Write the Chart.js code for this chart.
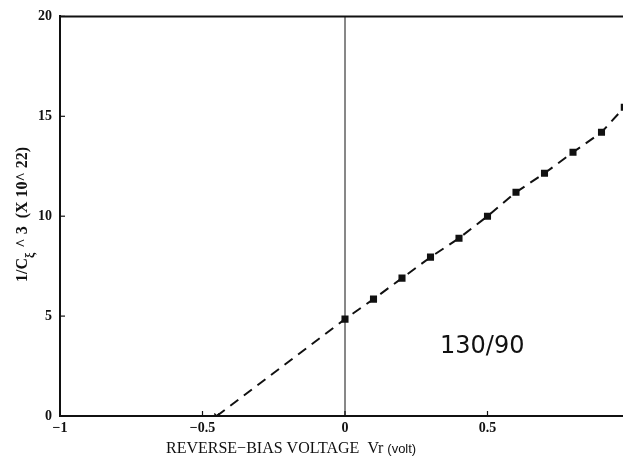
<!DOCTYPE html>
<html>
<head>
<meta charset="utf-8">
<script src="https://cdn.jsdelivr.net/npm/chart.js@4"></script>
<style>
  html, body { margin: 0; padding: 0; overflow: hidden; background: #fff; }
  #wrap { width: 623px; height: 462px; overflow: hidden; }
</style>
</head>
<body>
<div id="wrap"><canvas id="chart" width="690" height="462"></canvas></div>
<script>
// measured points, 1/C^3 against reverse bias
const voltage = [0, 0.1, 0.2, 0.3, 0.4, 0.5, 0.6, 0.7, 0.8, 0.9, 0.98]
const invC3 = [4.85, 5.85, 6.9, 7.95, 8.9, 10.0, 11.2, 12.15, 13.2, 14.2, 15.45]

// extrapolated intercept on the voltage axis
const interceptV = -0.45

const xTicks = [-1, -0.5, 0, 0.5, 1]
const yTicks = [0, 5, 10, 15, 20]

const serif = '"Liberation Serif", "DejaVu Serif", serif'

const frame = {
  id: 'frame',
  afterDatasetsDraw(chart) {
    const { ctx, chartArea, scales } = chart
    const x = scales.x
    const y = scales.y
    ctx.save()
    ctx.strokeStyle = '#111'
    // top border
    ctx.lineWidth = 2
    ctx.beginPath()
    ctx.moveTo(chartArea.left, chartArea.top)
    ctx.lineTo(chartArea.right, chartArea.top)
    ctx.stroke()
    // zero line
    ctx.lineWidth = 1
    ctx.beginPath()
    ctx.moveTo(x.getPixelForValue(0), chartArea.top)
    ctx.lineTo(x.getPixelForValue(0), chartArea.bottom)
    ctx.stroke()
    // small inward ticks
    ctx.lineWidth = 1.2
    xTicks.forEach((v) => {
      const px = x.getPixelForValue(v)
      ctx.beginPath()
      ctx.moveTo(px, chartArea.bottom)
      ctx.lineTo(px, chartArea.bottom - 5)
      ctx.stroke()
    })
    yTicks.forEach((v) => {
      const py = y.getPixelForValue(v)
      ctx.beginPath()
      ctx.moveTo(chartArea.left, py)
      ctx.lineTo(chartArea.left + 5, py)
      ctx.stroke()
    })

    ctx.fillStyle = '#111'
    ctx.textBaseline = 'alphabetic'

    // annotation
    ctx.font = '24px "DejaVu Sans", sans-serif'
    ctx.fillText('130/90', 440, 353)

    // x title
    let tx = 166
    ctx.font = '16px ' + serif
    const main = 'REVERSE\u2212BIAS VOLTAGE  Vr '
    ctx.fillText(main, tx, 453)
    tx += ctx.measureText(main).width
    ctx.font = '13px "Liberation Sans", Arial, sans-serif'
    ctx.fillText('(volt)', tx, 453)

    // y title, rotated
    ctx.translate(27, 282)
    ctx.rotate(-Math.PI / 2)
    let ty = 0
    ctx.font = 'bold 16px ' + serif
    ctx.fillText('1/C', ty, 0)
    ty += ctx.measureText('1/C').width
    ctx.font = 'bold 12px ' + serif
    ctx.fillText('\u03BE', ty, 7)
    ty += ctx.measureText('\u03BE').width + 1
    ctx.font = 'bold 16px ' + serif
    ctx.fillText(' ^ 3  (X 10^ 22)', ty, 0)
    ctx.restore()
  },
}

new Chart(document.getElementById('chart'), {
  type: 'scatter',
  data: {
    datasets: [
      {
        label: 'fit',
        data: [{ x: interceptV, y: 0 }].concat(voltage.map((v, i) => ({ x: v, y: invC3[i] }))),
        showLine: true,
        borderColor: '#111',
        borderWidth: 2,
        borderDash: [10, 7],
        pointRadius: (c) => (c.dataIndex === 0 ? 3.5 : 0),
        pointStyle: 'crossRot',
        pointBorderColor: '#111',
        pointBorderWidth: 1.5,
      },
      {
        label: 'data',
        data: voltage.map((v, i) => ({ x: v, y: invC3[i] })),
        showLine: false,
        pointStyle: 'rect',
        pointRadius: 5,
        pointBackgroundColor: '#111',
        pointBorderColor: '#111',
        pointBorderWidth: 0,
      },
    ],
  },
  options: {
    responsive: false,
    animation: false,
    layout: {
      padding: { top: 16, right: 60, left: 0, bottom: 0 },
    },
    plugins: {
      legend: { display: false },
      tooltip: { enabled: false },
    },
    scales: {
      x: {
        type: 'linear',
        min: -1,
        max: 1,
        afterBuildTicks: (scale) => { scale.ticks = xTicks.map((v) => ({ value: v })) },
        afterFit: (scale) => { scale.height = 46 },
        grid: { display: false, drawTicks: false },
        border: { display: true, color: '#111', width: 2 },
        ticks: {
          color: '#111',
          padding: 4,
          maxRotation: 0,
          font: { family: serif, size: 14, weight: 'bold' },
          callback: (v) => String(v).replace('-', '\u2212'),
        },
      },
      y: {
        min: 0,
        max: 20,
        afterBuildTicks: (scale) => { scale.ticks = yTicks.map((v) => ({ value: v })) },
        afterFit: (scale) => { scale.width = 60 },
        grid: { display: false, drawTicks: false },
        border: { display: true, color: '#111', width: 2 },
        ticks: {
          color: '#111',
          padding: 8,
          font: { family: serif, size: 14, weight: 'bold' },
        },
      },
    },
  },
  plugins: [frame],
})
</script>
</body>
</html>
